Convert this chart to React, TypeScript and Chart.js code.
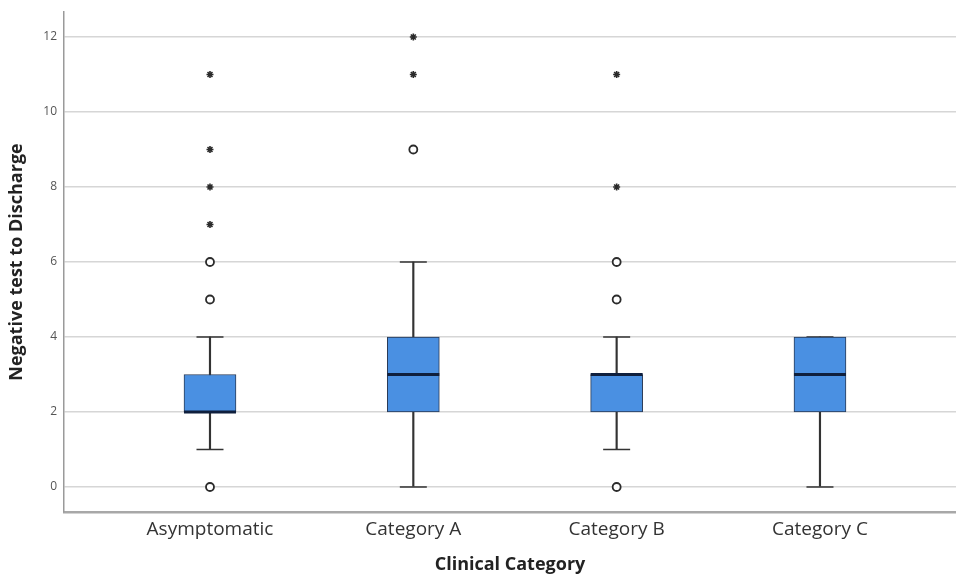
import React, { useEffect, useRef } from "react";
import { Chart, registerables } from "chart.js";

Chart.register(...registerables);

const categories = ["Asymptomatic", "Category A", "Category B", "Category C"];
const whiskerLow = [1, 0, 1, 0];
const q1 = [2, 2, 2, 2];
const median = [2, 3, 3, 3];
const q3 = [3, 4, 3, 4];
const whiskerHigh = [4, 6, 4, 4];
const mildOutliers = [[0, 5, 6], [9], [0, 5, 6], []];
const extremeOutliers = [[7, 8, 9, 11], [11, 12], [8, 11], []];
const yTicks = [0, 2, 4, 6, 8, 10, 12];

const FONT = "'Open Sans', 'DejaVu Sans', sans-serif";

export default function App() {
  const ref = useRef<HTMLCanvasElement | null>(null);

  useEffect(() => {
    document.body.style.margin = "0";
    const canvas = ref.current;
    if (!canvas) return;

    const idx = categories.map((_, i) => i);
    const boxData = idx.map((i) => ({ x: i, y: [q1[i], q3[i]] }));
    const whiskerData = idx.map((i) => ({ x: i, y: [whiskerLow[i], whiskerHigh[i]] }));
    const capData = idx.flatMap((i) => [
      { x: i, y: whiskerLow[i] },
      { x: i, y: whiskerHigh[i] },
    ]);
    const medianData = idx.map((i) => ({ x: i, y: median[i] }));
    const mildData = idx.flatMap((i) => mildOutliers[i].map((v) => ({ x: i, y: v })));
    const extremeData = idx.flatMap((i) => extremeOutliers[i].map((v) => ({ x: i, y: v })));

    const chart = new Chart(canvas, {
      type: "bar",
      data: {
        datasets: [
          {
            type: "scatter",
            data: medianData,
            pointStyle: "line",
            pointRadius: 26,
            borderColor: "#0f1f3d",
            borderWidth: 3,
            order: 0,
          } as any,
          {
            type: "scatter",
            data: mildData,
            pointStyle: "circle",
            pointRadius: 4,
            backgroundColor: "#ffffff",
            borderColor: "#2b2b2b",
            borderWidth: 1.8,
            order: 1,
          } as any,
          {
            type: "scatter",
            data: extremeData,
            pointStyle: "star",
            pointRadius: 3.5,
            borderColor: "#2b2b2b",
            borderWidth: 1.6,
            order: 1,
          } as any,
          {
            type: "bar",
            data: boxData,
            backgroundColor: "#4a90e2",
            borderColor: "#2a3a55",
            borderWidth: 1,
            borderSkipped: false,
            barThickness: 52,
            grouped: false,
            order: 2,
          } as any,
          {
            type: "scatter",
            data: capData,
            pointStyle: "line",
            pointRadius: 13.5,
            borderColor: "#333333",
            borderWidth: 1.5,
            order: 3,
          } as any,
          {
            type: "bar",
            data: whiskerData,
            backgroundColor: "#333333",
            borderWidth: 0,
            barThickness: 1.5,
            grouped: false,
            order: 4,
          } as any,
        ],
      },
      options: {
        animation: false,
        responsive: false,
        events: [],
        layout: { autoPadding: false, padding: { top: 12, right: 0, left: 0, bottom: 0 } },
        plugins: {
          legend: { display: false },
          tooltip: { enabled: false },
        },
        scales: {
          x: {
            type: "linear",
            offset: false,
            min: -0.718,
            max: 3.669,
            afterBuildTicks: (scale: any) => {
              scale.ticks = idx.map((v) => ({ value: v }));
            },
            afterFit: (scale: any) => {
              scale.height = 65;
              scale.paddingLeft = 0;
              scale.paddingRight = 0;
            },
            grid: { display: false, drawTicks: false, offset: false },
            border: { display: true, color: "#a8a8a8", width: 2.5 },
            ticks: {
              padding: 6,
              color: "#333333",
              font: { family: FONT, size: 19 },
              callback: (v: any) => categories[Math.round(Number(v))] ?? "",
            },
            title: {
              display: true,
              text: "Clinical Category",
              color: "#222222",
              font: { family: FONT, size: 18, weight: "bold" },
              padding: { top: 0, bottom: 1 },
            },
          },
          y: {
            type: "linear",
            min: -0.667,
            max: 12.667,
            afterBuildTicks: (scale: any) => {
              scale.ticks = yTicks.map((v) => ({ value: v }));
            },
            afterFit: (scale: any) => {
              scale.width = 64;
              scale.paddingTop = 0;
              scale.paddingBottom = 0;
            },
            grid: { color: "#d6d6d6", lineWidth: 1.5, drawTicks: false },
            border: { display: true, color: "#9a9a9a", width: 1.5 },
            ticks: {
              padding: 7,
              color: "#555555",
              font: { family: FONT, size: 12 },
            },
            title: {
              display: true,
              text: "Negative test to Discharge",
              color: "#222222",
              font: { family: FONT, size: 18, weight: "bold" },
              padding: { top: 6, bottom: 0 },
            },
          },
        },
      } as any,
    });

    return () => chart.destroy();
  }, []);

  return (
    <div style={{ width: 956, height: 577 }}>
      <canvas ref={ref} width={956} height={577} />
    </div>
  );
}
